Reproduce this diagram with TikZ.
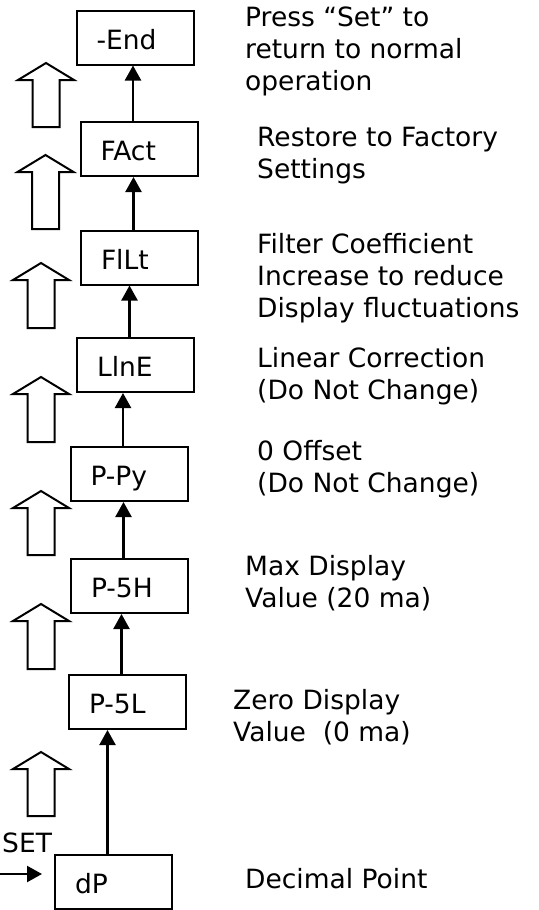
\documentclass[tikz,border=0pt]{standalone}
\usepackage{fontspec}
\setmainfont{DejaVu Sans}
\usetikzlibrary{arrows.meta}

\tikzset{
  menubox/.style={draw, line width=2pt, minimum width=117pt, minimum height=54pt,
    text width=77pt, inner xsep=20pt, inner ysep=0pt, text height=23pt, text depth=0pt, align=left},
  flow/.style={line width=2.3pt, -{Triangle[length=15pt,width=16pt]}},
  note/.style={anchor=base west, align=left, inner sep=0pt},
  hollow/.style={line width=2pt, line join=miter}
}

\begin{document}
\begin{tikzpicture}[x=1pt, y=-1pt, every node/.style={font=\fontsize{26.5}{32}\selectfont}]
\useasboundingbox (0,0) rectangle (538,910);

\node[menubox] (End) at (135,37.5) {-End};
\node[menubox] (FAct) at (139,149) {FAct};
\node[menubox] (FlLt) at (139.5,257.5) {FlLt};
\node[menubox] (LlnE) at (135.5,365) {LlnE};
\node[menubox] (PPy) at (129,474) {P-Py};
\node[menubox] (PSH) at (129.5,586) {P-5H};
\node[menubox] (PSL) at (127.5,702) {P-5L};
\node[menubox] (dP) at (113.5,882) {dP};

\foreach \a/\b in {dP/PSL,PSL/PSH,PSH/PPy,PPy/LlnE,LlnE/FlLt,FlLt/FAct,FAct/End}
  \draw[flow] ([xshift=-6pt]\a.north) -- ([xshift=-6pt]\a.north |- \b.south);

\foreach \x/\t/\b in {46/63/127,45.5/155/229,41/263/328,41/377/442,41/491/555,41/604/669,41/752/816}
  \draw[hollow] (\x,\t) -- ++(28,17) -- ++(-14.5,0) -- (\x+13.5,\b) -- (\x-13.5,\b)
    -- (\x-13.5,\t+17) -- ++(-14.5,0) -- cycle;

\node[note] (setkey) at (2,852) {SET};
\coordinate (setin) at (0,874);
\draw[flow] (setin) -- ([xshift=-12pt]dP.west |- setin);

\node[note] (press) at (245,90) {Press “Set” to\\return to normal\\operation};
\node[note] (restore) at (257,178) {Restore to Factory\\Settings};
\node[note] (filter) at (257,317) {Filter Coefficient\\Increase to reduce\\Display fluctuations};
\node[note] (linear) at (257,399) {Linear Correction\\(Do Not Change)};
\node[note] (offset) at (257,492) {0 Offset\\(Do Not Change)};
\node[note] (maxval) at (245,607) {Max Display\\Value (20 ma)};
\node[note] (zeroval) at (233,741) {Zero Display\\Value\ \ (0 ma)};
\node[note] (decimal) at (245,888) {Decimal Point};
\end{tikzpicture}
\end{document}
